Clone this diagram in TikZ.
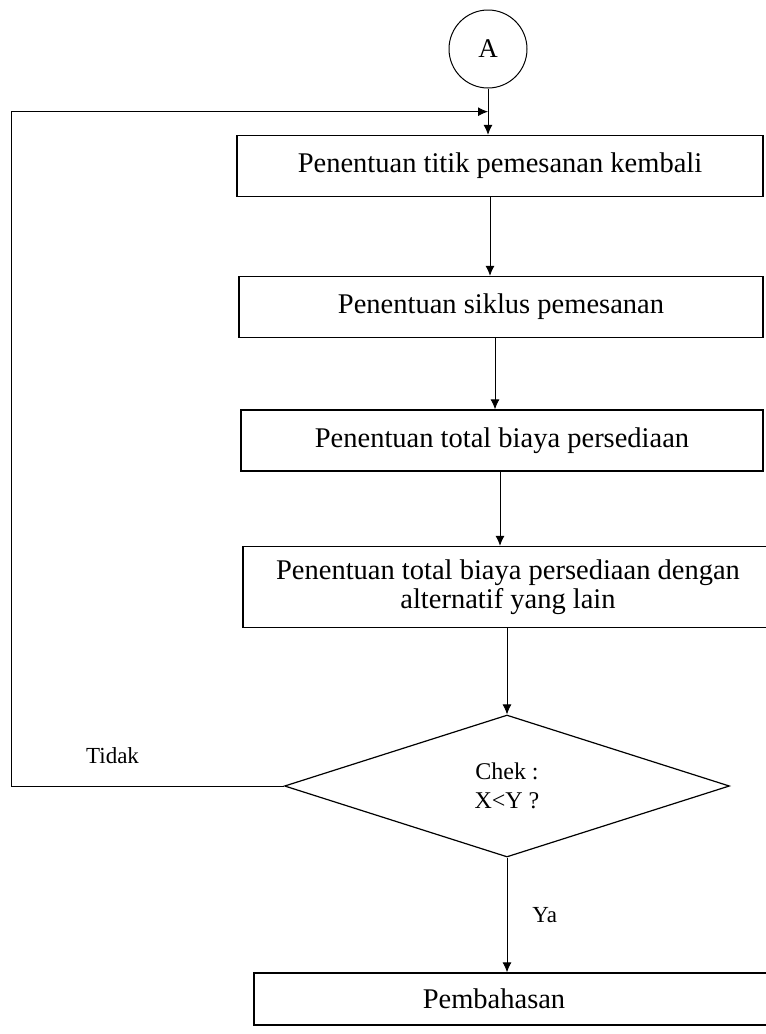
\documentclass[tikz,border=0pt]{standalone}
\usepackage{fontspec}
\setmainfont{Liberation Serif}
\usetikzlibrary{shapes.geometric,arrows.meta,positioning,calc}

\begin{document}
\begin{tikzpicture}[x=1pt,y=-1pt,
  box/.style={draw, line width=1.3pt, minimum height=61pt, inner sep=0pt, align=center, font=\fontsize{28.5}{29}\selectfont},
  arr/.style={-{Latex[length=10pt,width=9pt]}, line width=0.9pt},
  lbl/.style={inner sep=2pt, font=\fontsize{23}{27}\selectfont}]

\useasboundingbox (0,0) rectangle (766,1034);

% Start connector
\node[draw, circle, line width=1pt, minimum size=78pt, inner sep=0pt, font=\fontsize{27}{31}\selectfont] (A) at (488,49) {A};

% Process steps
\node[box, minimum width=526pt] (b1) at (500,166) {Penentuan titik pemesanan kembali};
\node[box, minimum width=524pt] (b2) at (501,307) {Penentuan siklus pemesanan};
\node[box, minimum width=522pt] (b3) at (502,440.5) {Penentuan total biaya persediaan};
\node[box, minimum width=530pt, minimum height=81pt] (b4) at (508,587) {Penentuan total biaya persediaan dengan\\alternatif yang lain};

% Decision
\node[draw, diamond, aspect=3.13, minimum width=445pt, minimum height=142pt, inner sep=0pt, line width=1.2pt, align=center, font=\fontsize{24}{29}\selectfont] (d) at (507,786) {Chek :\\X<Y ?};

% Last step
\node[box, minimum width=540pt, minimum height=52pt] (b5) at (524,999) {Pembahasan\hspace*{60pt}};

% Connectors between the steps
\coordinate (m) at ($(A.south)!0.5!(A |- b1.north)$);
\draw[arr] (A) -- (A |- b1.north);
\foreach \u/\v/\x in {b1/b2/490, b2/b3/495, b3/b4/500}
  \draw[arr] (\u.south -| \x,0) -- (\v.north -| \x,0);
\draw[arr] (b4.south -| d.north) -- (d.north);
\draw[arr] (d.south) -- (d.south |- b5.north) node[midway, right=23pt, lbl] {Ya};

% Loop back when the check fails
\draw[arr] (d.west) -- node[pos=0.63, above=20pt, lbl] {Tidak} ++(-272,0) |- (m);

\end{tikzpicture}
\end{document}
